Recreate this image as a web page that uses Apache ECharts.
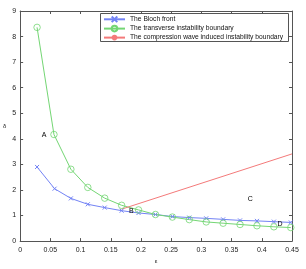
<!DOCTYPE html>
<html><head><meta charset="utf-8">
<script src="https://cdn.jsdelivr.net/npm/echarts@6/dist/echarts.min.js"></script>
<style>html,body{margin:0;padding:0;background:#fff}#c{width:306px;height:269px}</style>
</head><body><div id="c"></div>
<script>
var xBloch = [0.028,0.057,0.084,0.112,0.14,0.168,0.196,0.224,0.252,0.28,0.308,0.336,0.364,0.392,0.42,0.448];
var yBloch = [2.9,2.05,1.67,1.44,1.31,1.19,1.10,1.04,0.96,0.92,0.89,0.85,0.81,0.79,0.76,0.73];
var xTrans = [0.028,0.056,0.084,0.112,0.14,0.168,0.196,0.224,0.252,0.28,0.308,0.336,0.364,0.392,0.42,0.448];
var yTrans = [8.36,4.17,2.81,2.10,1.68,1.40,1.22,1.04,0.94,0.84,0.75,0.70,0.65,0.60,0.56,0.53];
var xComp = [0.168,0.45];
var yComp = [1.25,3.41];
var regionNames = ['A','B','C','D'];
var regionX = [0.0395,0.184,0.381,0.43];
var regionY = [4.13,1.19,1.63,0.65];
var xTicks = [0,0.05,0.1,0.15,0.2,0.25,0.3,0.35,0.4,0.45];
var yTicks = [0,1,2,3,4,5,6,7,8,9];
var seriesNames = ['The Bloch front','The transverse instability boundary','The compression wave induced instability boundary'];

function zip(a,b){return a.map(function(v,i){return [v,b[i]];});}
var axisCol = '#555';
var lblStyle = {fontSize:7,color:'#222',fontFamily:'Liberation Sans'};
var chart = echarts.init(document.getElementById('c'));
var xBase = {type:'value',min:0,max:0.45,interval:0.05,
  axisLine:{show:true,onZero:false,lineStyle:{color:axisCol,width:1}},
  axisTick:{show:true,inside:true,length:3,lineStyle:{color:axisCol}},
  splitLine:{show:false}};
var yBase = {type:'value',min:0,max:9,interval:1,
  axisLine:{show:true,onZero:false,lineStyle:{color:axisCol,width:1}},
  axisTick:{show:true,inside:true,length:3,lineStyle:{color:axisCol}},
  splitLine:{show:false}};
chart.setOption({
  animation:false,
  backgroundColor:'#fff',
  grid:{left:15,right:14,top:11,bottom:21,containLabel:false},
  xAxis:[
    Object.assign({},xBase,{position:'bottom',name:'ε',nameLocation:'middle',nameGap:10,
      nameTextStyle:{fontSize:6,color:'#222'},
      axisLabel:Object.assign({margin:5,formatter:function(v){return xTicks.indexOf(+v.toFixed(2))>=0?String(+v.toFixed(2)):'';}},lblStyle)}),
    Object.assign({},xBase,{position:'top',axisLabel:{show:false}})
  ],
  yAxis:[
    Object.assign({},yBase,{position:'left',name:'δ',nameLocation:'middle',nameGap:9,nameRotate:0,
      nameTextStyle:{fontSize:6,color:'#222',padding:[14,0,0,0]},
      axisLabel:Object.assign({margin:4,formatter:function(v){return yTicks.indexOf(v)>=0?String(v):'';}},lblStyle)}),
    Object.assign({},yBase,{position:'right',axisLabel:{show:false}})
  ],
  legend:{
    show:true,left:100,top:13,orient:'vertical',
    data:seriesNames,
    itemWidth:21,itemHeight:7,itemGap:1.7,
    padding:[2.5,2,2,3],
    borderWidth:0,
    textStyle:{fontSize:6.7,color:'#111',fontFamily:'Liberation Sans'}
  },
  series:[
    {name:seriesNames[0],type:'line',data:zip(xBloch,yBloch),
     symbol:'path://M0,0L10,10M10,0L0,10',symbolSize:4,showAllSymbol:true,
     lineStyle:{color:'#7383f5',width:1},
     itemStyle:{color:'rgba(0,0,0,0)',borderColor:'#7383f5',borderWidth:1}},
    {name:seriesNames[1],type:'line',data:zip(xTrans,yTrans),
     symbol:'circle',symbolSize:6.5,showAllSymbol:true,
     lineStyle:{color:'#74d674',width:1},
     itemStyle:{color:'rgba(0,0,0,0)',borderColor:'#74d674',borderWidth:0.8}},
    {name:seriesNames[2],type:'line',data:zip(xComp,yComp),symbol:'none',
     lineStyle:{color:'#f47a7a',width:1},itemStyle:{color:'#f47a7a'}}
  ]
});
var g = regionNames.map(function(n,i){
  var p = chart.convertToPixel({xAxisIndex:0,yAxisIndex:0},[regionX[i],regionY[i]]);
  return {type:'text',id:'lbl'+n,x:p[0],y:p[1],z:100,
    style:{text:n,fontSize:7,fill:'#000',fontFamily:'Liberation Sans',align:'center',verticalAlign:'middle'}};
});
g.push({type:'rect',id:'legendBox',z:0,silent:true,
  shape:{x:100.5,y:13.5,width:188,height:28},
  style:{fill:'#fff',stroke:'#555',lineWidth:1}});
chart.setOption({graphic:g});
</script></body></html>
